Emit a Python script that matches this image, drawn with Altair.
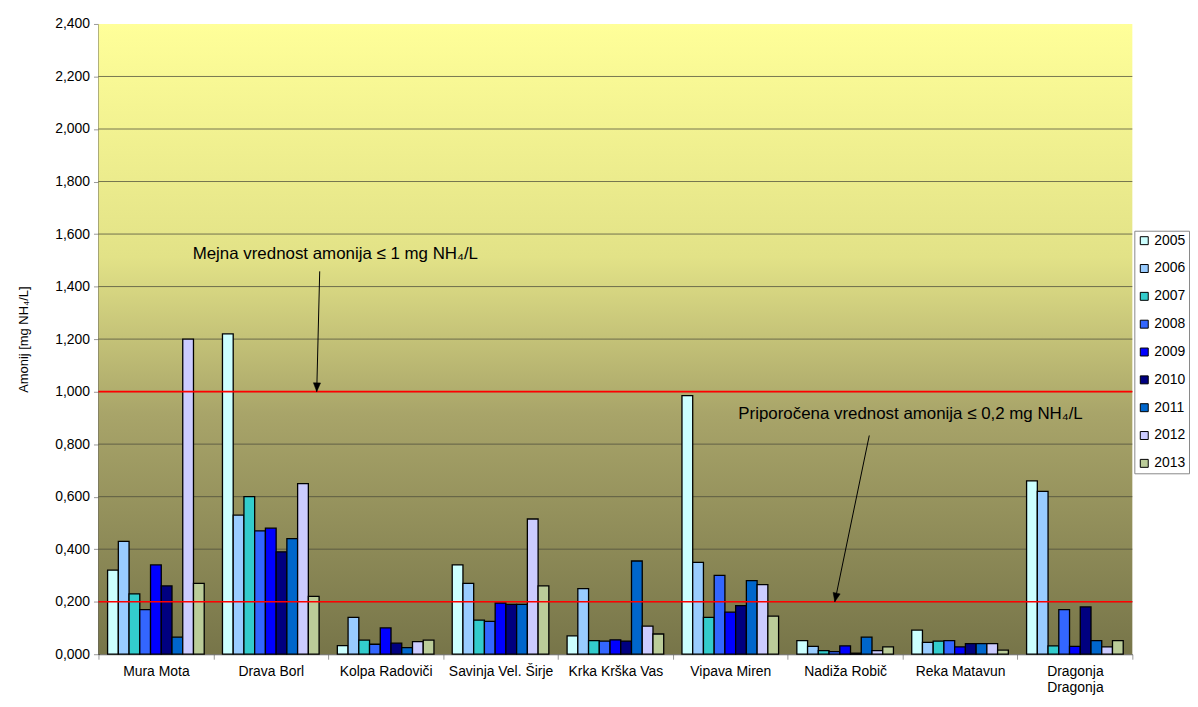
import altair as alt
import pandas as pd

sites = ["Mura Mota", "Drava Borl", "Kolpa Radoviči", "Savinja Vel. Širje", "Krka Krška Vas",
         "Vipava Miren", "Nadiža Robič", "Reka Matavun", "Dragonja Dragonja"]
years = ["2005", "2006", "2007", "2008", "2009", "2010", "2011", "2012", "2013"]
colors = ["#CCFFFF", "#99CCFF", "#33CCCC", "#3366FF", "#0000FF", "#000080", "#0066CC", "#CCCCFF", "#BBCC99"]

mura = [0.32, 0.43, 0.23, 0.17, 0.34, 0.26, 0.065, 1.20, 0.27]
drava = [1.22, 0.53, 0.60, 0.47, 0.48, 0.39, 0.44, 0.65, 0.22]
kolpa = [0.033, 0.14, 0.054, 0.038, 0.10, 0.042, 0.025, 0.048, 0.054]
savinja = [0.34, 0.27, 0.13, 0.125, 0.195, 0.19, 0.19, 0.515, 0.26]
krka = [0.07, 0.25, 0.052, 0.05, 0.055, 0.05, 0.355, 0.107, 0.077]
vipava = [0.985, 0.35, 0.14, 0.30, 0.16, 0.185, 0.28, 0.265, 0.145]
nadiza = [0.052, 0.03, 0.014, 0.01, 0.032, 0.004, 0.065, 0.014, 0.028]
reka = [0.092, 0.045, 0.05, 0.052, 0.028, 0.04, 0.04, 0.04, 0.016]
dragonja = [0.66, 0.62, 0.032, 0.17, 0.03, 0.18, 0.052, 0.028, 0.052]

y_ticks = [0, 0.2, 0.4, 0.6, 0.8, 1.0, 1.2, 1.4, 1.6, 1.8, 2.0, 2.2, 2.4]
limits = [1.0, 0.2]

# annotations (x in category units from the left edge, y in data units)
ann_text = ["Mejna vrednost amonija ≤ 1 mg NH₄/L", "Priporočena vrednost amonija ≤ 0,2 mg NH₄/L"]
ann_tx = [0.82, 5.57]
ann_ty = [1.523, 0.913]
arrow_x1 = [1.926, 6.71]
arrow_y1 = [1.458, 0.833]
arrow_x2 = [1.90, 6.41]
arrow_y2 = [1.0, 0.2]
arrow_angle = [1.5, 12]

FONT = "Liberation Sans"

rows = []
for s, vals in zip(sites, [mura, drava, kolpa, savinja, krka, vipava, nadiza, reka, dragonja]):
    for y, v in zip(years, vals):
        rows.append({"site": s, "year": y, "value": v})
df = pd.DataFrame(rows)

ann_df = pd.DataFrame({"text": ann_text, "tx": ann_tx, "ty": ann_ty})
arr_df = pd.DataFrame({"x1": arrow_x1, "y1": arrow_y1, "x2": arrow_x2, "y2": arrow_y2, "angle": arrow_angle})
lim_df = pd.DataFrame({"v": limits})
grid_df = pd.DataFrame({"v": y_ticks[1:-1]})
bg_df = pd.DataFrame({"x0": [0], "x1": [9], "y0": [0], "y1": [2.4]})

yscale = alt.Scale(domain=[0, 2.4], nice=False, zero=True)
xq = alt.Scale(domain=[0, 9], nice=False, zero=False)

gradient = {"gradient": "linear", "x1": 0, "y1": 0, "x2": 0, "y2": 1,
            "stops": [{"offset": 0, "color": "#FFFF99"},
                      {"offset": 0.37, "color": "#E2E287"},
                      {"offset": 0.62, "color": "#A8A469"},
                      {"offset": 1, "color": "#777549"}]}

bg = alt.Chart(bg_df).mark_rect(color=gradient).encode(
    x=alt.X("x0:Q", scale=xq, axis=None),
    x2="x1:Q",
    y=alt.Y("y0:Q", scale=yscale),
    y2="y1:Q",
)

grid = alt.Chart(grid_df).mark_rule(color="#4a4a3a", opacity=0.75, strokeWidth=1).encode(
    y=alt.Y("v:Q", scale=yscale)
)

bars = alt.Chart(df).mark_bar(stroke="black", strokeWidth=1.3).encode(
    x=alt.X("site:N", sort=sites, title=None,
            scale=alt.Scale(paddingInner=0, paddingOuter=0),
            axis=alt.Axis(labelAngle=0, tickBand="extent", tickSize=5, tickColor="#999999",
                          domainColor="#555555", labelFont=FONT, labelFontSize=14, labelColor="black",
                          labelPadding=5, labelLimit=200, labelLineHeight=17,
                          labelExpr="datum.label == 'Dragonja Dragonja' ? ['Dragonja', 'Dragonja'] : datum.label")),
    xOffset=alt.XOffset("year:N", sort=years, scale=alt.Scale(paddingInner=0, paddingOuter=0.85)),
    y=alt.Y("value:Q", scale=yscale, title="Amonij [mg NH₄/L]",
            axis=alt.Axis(values=y_ticks,
                          labelExpr="replace(format(datum.value, '.3f'), '.', ',')",
                          grid=False,
                          tickSize=5, tickColor="#999999", domainColor="black", domainWidth=1.2,
                          labelFont=FONT, labelFontSize=14, labelColor="black", labelPadding=4,
                          titleFont=FONT, titleFontSize=13, titleFontWeight="normal", titleColor="black",
                          titlePadding=24)),
    color=alt.Color("year:N", sort=years, scale=alt.Scale(domain=years, range=colors),
                    legend=alt.Legend(title=None, orient="none", legendX=1042, legendY=208,
                                      symbolType="square", symbolSize=64, symbolStrokeColor="black",
                                      symbolStrokeWidth=1, labelFont=FONT, labelFontSize=14,
                                      labelColor="black", rowPadding=14, padding=3, labelOffset=3,
                                      strokeColor="#888888", fillColor="white")),
)

rules = alt.Chart(lim_df).mark_rule(color="#FF0000", strokeWidth=1.6).encode(
    y=alt.Y("v:Q", scale=yscale)
)

texts = alt.Chart(ann_df).mark_text(align="left", baseline="middle", font=FONT, fontSize=17, color="black").encode(
    x=alt.X("tx:Q", scale=xq, axis=None),
    y=alt.Y("ty:Q", scale=yscale),
    text="text:N",
)

arrow_lines = alt.Chart(arr_df).mark_rule(color="black", strokeWidth=1).encode(
    x=alt.X("x1:Q", scale=xq, axis=None),
    y=alt.Y("y1:Q", scale=yscale),
    x2="x2:Q",
    y2="y2:Q",
)

arrow_heads = alt.Chart(arr_df).mark_point(
    shape="M0,0L-0.9,-2.2L0.9,-2.2Z", filled=True, fill="black", stroke="black",
    strokeWidth=0.5, size=64, opacity=1
).encode(
    x=alt.X("x2:Q", scale=xq, axis=None),
    y=alt.Y("y2:Q", scale=yscale),
    angle=alt.Angle("angle:Q", scale=None),
)

chart = alt.layer(bg, grid, bars, rules, texts, arrow_lines, arrow_heads).resolve_scale(x="independent").properties(
    width=1040, height=634,
    padding={"left": 9, "top": 7, "right": 0, "bottom": 5},
    background="white",
).configure_view(
    stroke="transparent",
)

chart.save("out.html", embed_options={"renderer": "svg", "actions": False})
